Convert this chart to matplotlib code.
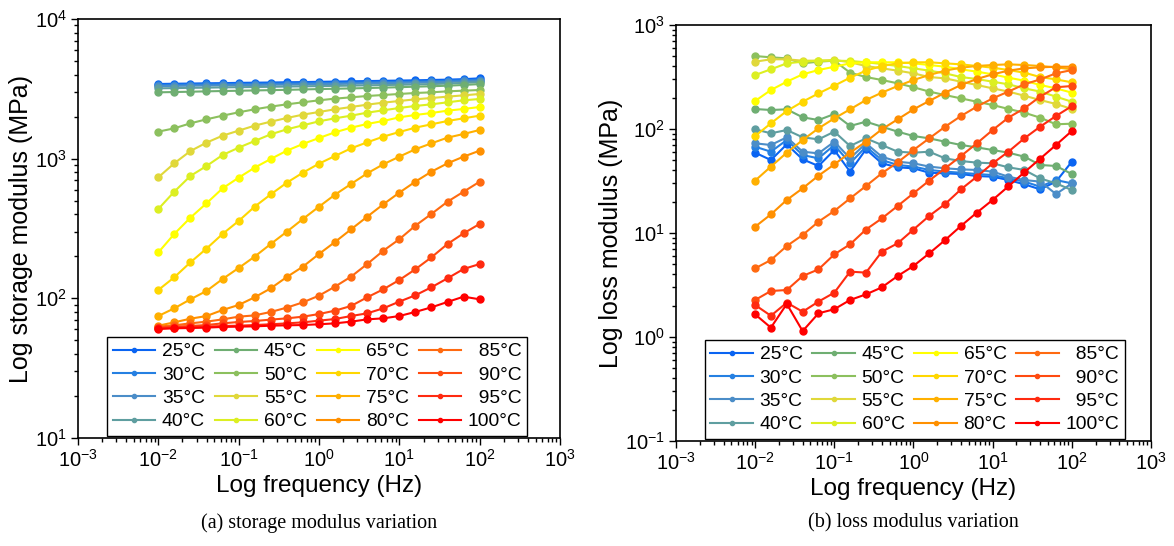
"""Storage and loss modulus frequency sweeps, 25-100 C, log-log panels."""

import matplotlib

matplotlib.use("Agg")
import matplotlib.pyplot as plt

plt.rcParams["font.family"] = ["Liberation Sans", "DejaVu Sans"]
plt.rcParams["axes.unicode_minus"] = False
plt.rcParams["mathtext.default"] = "regular"

FREQ = [0.01, 0.0158, 0.0251, 0.0398, 0.0631, 0.1, 0.158, 0.251, 0.398, 0.631,
        1.0, 1.58, 2.51, 3.98, 6.31, 10.0, 15.8, 25.1, 39.8, 63.1, 100.0]

TEMPS = ["25°C", "30°C", "35°C", "40°C", "45°C", "50°C", "55°C", "60°C",
         "65°C", "70°C", "75°C", "80°C", "  85°C", "  90°C", "  95°C", "100°C"]

COLORS = ["#0a64f2", "#2580e2", "#4b8dc8", "#5f9ea0", "#6fae72", "#8cc05e",
          "#e0d83a", "#dcef22", "#ffff00", "#ffd700", "#ffb000", "#ff9000",
          "#ff6a10", "#ff4a10", "#ff2a10", "#ff0000"]

# storage modulus E' (MPa)
STORAGE = [
    [3425, 3440, 3450, 3465, 3475, 3490, 3500, 3510, 3525, 3535, 3550,
     3565, 3580, 3595, 3610, 3625, 3640, 3660, 3680, 3710, 3760],
    [3370, 3380, 3390, 3400, 3410, 3420, 3430, 3440, 3450, 3460, 3470,
     3485, 3500, 3515, 3530, 3545, 3560, 3580, 3610, 3640, 3680],
    [3310, 3320, 3330, 3340, 3350, 3360, 3370, 3380, 3390, 3400, 3410,
     3425, 3440, 3455, 3470, 3485, 3500, 3520, 3545, 3575, 3610],
    [3190, 3200, 3215, 3225, 3240, 3250, 3260, 3270, 3285, 3295, 3310,
     3320, 3335, 3350, 3365, 3380, 3400, 3420, 3450, 3490, 3530],
    [2985, 3000, 3015, 3035, 3050, 3065, 3080, 3095, 3110, 3130, 3150,
     3165, 3185, 3205, 3225, 3250, 3275, 3300, 3330, 3370, 3420],
    [1561, 1649, 1791, 1913, 2032, 2147, 2256, 2358, 2450, 2532, 2617,
     2690, 2750, 2810, 2857, 2905, 2953, 2985, 3035, 3068, 3102],
    [735, 926, 1134, 1302, 1461, 1587, 1723, 1841, 1955, 2066, 2159,
     2256, 2344, 2436, 2518, 2588, 2660, 2719, 2780, 2841, 2905],
    [436, 580, 752, 886, 1062, 1199, 1338, 1494, 1622, 1733, 1851,
     1945, 2032, 2135, 2219, 2306, 2384, 2450, 2532, 2617, 2675],
    [213, 289, 378, 479, 613, 731, 862, 995, 1141, 1274, 1406,
     1544, 1667, 1772, 1861, 1977, 2055, 2123, 2207, 2269, 2344],
    [114.7, 141.4, 181, 227, 289, 358, 453, 555, 673, 794, 921,
     1045, 1186, 1309, 1438, 1552, 1667, 1762, 1861, 1945, 2032],
    [74.7, 84.8, 98.4, 112.9, 137.5, 164.9, 198.8, 245, 300, 370, 453,
     552, 659, 785, 911, 1034, 1167, 1288, 1414, 1502, 1605],
    [63.7, 67.3, 71.5, 74.7, 82.5, 89.6, 101.7, 117.9, 142.2, 168.6, 207.7,
     253, 312, 384, 471, 571, 684, 807, 926, 1034, 1141],
    [62.7, 64.1, 66.2, 68.1, 70.7, 73.9, 75.5, 79.9, 85.8, 93.6, 104.5,
     121.2, 143, 176, 219, 265, 331, 402, 492, 580, 684],
    [61.7, 62.7, 63.4, 64.4, 66.2, 67.7, 68.8, 70.4, 71.9, 73.9, 77.2,
     81.6, 88.2, 101.7, 116, 135.3, 161.3, 196.6, 245, 292, 341],
    [61.0, 61.7, 62.4, 62.7, 63.4, 63.7, 64.4, 65.2, 66.2, 67.3, 69.2,
     71.1, 74.7, 78.1, 84.8, 94.7, 105.1, 120, 139.1, 162.2, 176],
    [60.3, 61.0, 61.3, 61.7, 62.4, 62.7, 63.0, 63.7, 64.1, 64.4, 65.2,
     66.2, 68.1, 70.7, 71.9, 74.7, 79.9, 86.2, 94.2, 102.8, 98.4],
]

# loss modulus E'' (MPa)
LOSS = [
    [59.2, 50.3, 71.2, 51.1, 44.1, 62.8, 38.9, 63.8, 46.8, 42.8, 41.9,
     38.0, 37.5, 36.9, 35.3, 34.8, 32.3, 29.4, 26.3, 31.2, 48.5],
    [67.6, 60.5, 78.4, 56.2, 52.2, 70.2, 46.8, 67.6, 50.3, 45.1, 43.5,
     40.4, 38.9, 38.0, 36.9, 36.1, 33.5, 31.2, 27.9, 32.3, 30.0],
    [72.8, 70.2, 83.2, 60.5, 58.3, 75.5, 52.2, 72.8, 54.2, 48.5, 46.8,
     43.5, 41.9, 40.9, 40.4, 38.9, 34.8, 32.3, 31.2, 23.7, 30.0],
    [99.3, 90.9, 97.8, 83.2, 79.5, 94.3, 68.6, 81.3, 70.2, 60.5, 59.2,
     60.5, 52.2, 49.2, 47.5, 46.8, 42.8, 40.4, 33.5, 30.0, 25.9],
    [155.7, 152.3, 154.6, 129.5, 122.0, 139.4, 106.9, 117.6, 105.3, 94.3, 85.6,
     81.3, 75.5, 70.2, 66.6, 62.8, 59.2, 54.2, 45.1, 44.1, 36.9],
    [503, 489, 478, 428, 444, 454, 348, 316, 296, 275, 252,
     229, 212, 197, 183, 170, 156, 143.5, 128.5, 111, 112.5],
    [444, 468, 468, 454, 454, 461, 438, 403.5, 383, 364, 343,
     316, 307, 285, 265, 246, 229, 209, 190, 174, 156],
    [330.5, 375, 428, 444, 454, 454, 451, 438, 422, 403.5, 383,
     364, 343, 316, 302.6, 285, 269, 246, 229, 204.6, 183],
    [186, 237, 285, 335.5, 369, 397, 428, 438, 438, 438, 428,
     412.5, 397, 375, 356, 335.5, 311.6, 291.5, 265, 246, 223.6],
    [85.6, 113.4, 149, 183, 220, 261, 311.6, 364, 403.5, 428, 438,
     438, 428, 418.6, 403.5, 388.7, 369, 348, 316, 300, 281],
    [31.9, 43.5, 59.2, 78.4, 101.5, 126.6, 154.6, 190, 223.6, 259, 296,
     330.5, 364, 388.7, 403.5, 412.5, 418.6, 412.5, 403.5, 391.7, 375],
    [11.5, 15.1, 20.8, 26.9, 35.6, 45.7, 59.2, 75.5, 99.3, 123.9, 154.6,
     186, 223.6, 265, 302.6, 335.5, 364, 383, 391.7, 397, 397],
    [4.57, 5.50, 7.50, 9.57, 12.85, 16.3, 21.5, 28.3, 37.5, 47.8, 62.8,
     81.3, 105.3, 133.4, 164, 197, 229, 269, 300, 343, 369],
    [2.27, 2.77, 2.83, 3.86, 4.47, 6.23, 7.78, 10.8, 13.8, 18.2, 24.1,
     31.9, 41.9, 55.0, 72.8, 97.8, 128.5, 158, 204.6, 252, 259],
    [2.03, 1.60, 2.14, 1.75, 2.19, 2.67, 4.25, 4.16, 6.61, 7.96, 10.8,
     14.6, 19.0, 26.3, 34.8, 46.8, 60.5, 81.3, 105.3, 133.4, 166],
    [1.65, 1.23, 2.08, 1.14, 1.69, 1.85, 2.27, 2.57, 3.00, 3.86, 4.82,
     6.37, 8.56, 11.7, 15.7, 20.8, 28.1, 38.3, 51.8, 70.2, 95.7],
]


def draw_panel(ax, series, ylim, ylabel):
    for label, color, values in zip(TEMPS, COLORS, series):
        ax.plot(FREQ, values, "-o", color=color, lw=1.5, ms=5, label=label)
    ax.set_xscale("log")
    ax.set_yscale("log")
    ax.set_xlim(1e-3, 1e3)
    ax.set_ylim(*ylim)
    ax.set_xlabel("Log frequency (Hz)", fontsize=17.5, labelpad=3)
    ax.set_ylabel(ylabel, fontsize=18, labelpad=1)
    ax.tick_params(which="both", direction="out", labelsize=14.5,
                   top=False, right=False, width=1.0)
    ax.tick_params(which="major", length=5, pad=3)
    ax.tick_params(which="minor", length=3)
    for sp in ax.spines.values():
        sp.set_linewidth(1.2)
    leg = ax.legend(ncol=4, loc="lower left", bbox_to_anchor=(0.056, 0.0),
                    fontsize=13.9, frameon=True, fancybox=False,
                    edgecolor="black", framealpha=1.0, markerscale=0.6,
                    handlelength=2.2, handletextpad=0.35, columnspacing=0.5,
                    labelspacing=0.3, borderpad=0.3, borderaxespad=0.1)
    leg.get_frame().set_linewidth(1.0)


fig = plt.figure(figsize=(11.74, 5.46), dpi=100)
ax_s = fig.add_axes([0.0664, 0.1978, 0.4106, 0.7674])
ax_l = fig.add_axes([0.5758, 0.1923, 0.4046, 0.7619])

draw_panel(ax_s, STORAGE, (1e1, 1e4), "Log storage modulus (MPa)")
draw_panel(ax_l, LOSS, (1e-1, 1e3), "Log loss modulus (MPa)")

fig.text(0.272, 0.042, "(a) storage modulus variation", ha="center",
         va="center", fontsize=14.5, family="Liberation Serif")
fig.text(0.778, 0.042, "(b) loss modulus variation", ha="center",
         va="center", fontsize=14.5, family="Liberation Serif")

fig.savefig("out.png", dpi=100)
